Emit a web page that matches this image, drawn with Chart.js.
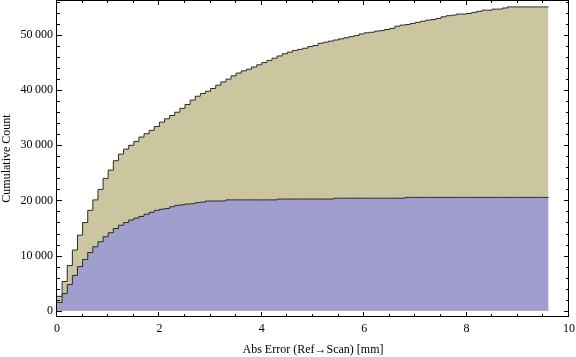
<!DOCTYPE html>
<html>
<head>
<meta charset="utf-8">
<script src="https://cdn.jsdelivr.net/npm/chart.js@4"></script>
<style>
  body { margin: 0; background: #fff; }
  #wrap { width: 576px; height: 357px; }
</style>
</head>
<body>
<div id="wrap"><canvas id="chart" width="576" height="357"></canvas></div>
<script>
const TAN = "#cbc6a0";
const LAVENDER = "#a09ecc";
const EDGE = "#2b2b2b";
const SERIF = "'Liberation Serif', 'DejaVu Serif', serif";

// bins are 0.1 mm wide, starting at 0
const BIN_WIDTH = 0.1;

// cumulative count, all points (tan)
const cumulativeAll = [
  2600, 5300, 8200, 11000, 13700, 16000, 18200, 20100, 22000, 24000,
  25500, 27200, 28400, 29300, 30000, 30700, 31500, 32100, 32700, 33400,
  34200, 34800, 35400, 36000, 36700, 37400, 38200, 38900, 39400, 39800,
  40300, 40900, 41500, 42000, 42600, 43100, 43500, 43800, 44200, 44600,
  45000, 45400, 45800, 46200, 46600, 46900, 47200, 47400, 47600, 47900,
  48100, 48500, 48700, 48900, 49100, 49300, 49500, 49700, 49900, 50200,
  50400, 50500, 50700, 50800, 51000, 51200, 51600, 51800, 51900, 52100,
  52300, 52500, 52700, 52800, 53000, 53300, 53500, 53600, 53800, 53800,
  53900, 54100, 54300, 54500, 54500, 54700, 54700, 54900, 55100, 55100,
  55100, 55100, 55100, 55100, 55100, 55100,
];

// cumulative count, subset (lavender)
const cumulativeSubset = [
  1500, 3100, 4750, 6400, 8000, 9300, 10550, 11600, 12500, 13400,
  14150, 14900, 15500, 16000, 16450, 16800, 17100, 17500, 17850, 18200,
  18400, 18550, 18850, 19100, 19200, 19350, 19400, 19600, 19700, 19900,
  19900, 19900, 19900, 20100, 20100, 20100, 20100, 20100, 20100, 20100,
  20100, 20100, 20100, 20250, 20250, 20250, 20250, 20250, 20250, 20250,
  20250, 20250, 20250, 20250, 20400, 20400, 20400, 20400, 20400, 20400,
  20400, 20400, 20400, 20400, 20400, 20400, 20400, 20400, 20550, 20550,
  20550, 20550, 20550, 20550, 20550, 20550, 20550, 20550, 20550, 20550,
  20550, 20550, 20550, 20550, 20550, 20550, 20550, 20550, 20550, 20550,
  20550, 20550, 20550, 20550, 20550, 20550,
];

// axis ranges and tick positions
const X_MIN = 0, X_MAX = 10;
const Y_MIN = -1140, Y_MAX = 56350;
const xMajorTicks = [0, 2, 4, 6, 8, 10];
const yMajorTicks = [0, 10000, 20000, 30000, 40000, 50000];
const xMinorStep = 0.5;
const yMinorStep = 2000;

function stepPoints(counts) {
  const pts = counts.map((v, i) => ({ x: i * BIN_WIDTH, y: v }));
  pts.push({ x: counts.length * BIN_WIDTH, y: counts[counts.length - 1] });
  return pts;
}

function minorTicks(min, max, step) {
  const out = [];
  for (let v = Math.ceil(min / step) * step; v <= max + 1e-9; v += step) {
    out.push(Math.round(v * 1000) / 1000);
  }
  return out;
}

function fmtCount(v) {
  return String(v).replace(/\B(?=(\d{3})+(?!\d))/g, "\u2009");
}

const isMajorX = (v) => xMajorTicks.some((m) => Math.abs(m - v) < 1e-6);
const isMajorY = (v) => yMajorTicks.some((m) => Math.abs(m - v) < 1e-6);

/* frame with inward ticks on all four sides */
const frameTicks = {
  id: "frameTicks",
  afterDraw(chart) {
    const { ctx, chartArea: a, scales } = chart;
    ctx.save();
    ctx.strokeStyle = "#000";
    ctx.lineWidth = 1;
    ctx.beginPath();
    for (const t of scales.x.ticks) {
      const px = Math.round(scales.x.getPixelForValue(t.value)) - 0.5;
      const len = isMajorX(t.value) ? 5 : 3;
      ctx.moveTo(px, a.bottom); ctx.lineTo(px, a.bottom - len);
      ctx.moveTo(px, a.top); ctx.lineTo(px, a.top + len);
    }
    for (const t of scales.y.ticks) {
      const py = Math.round(scales.y.getPixelForValue(t.value)) + 0.5;
      const len = isMajorY(t.value) ? 5 : 3;
      ctx.moveTo(a.left, py); ctx.lineTo(a.left + len, py);
      ctx.moveTo(a.right, py); ctx.lineTo(a.right - len, py);
    }
    ctx.moveTo(a.left - 0.5, a.top + 0.5);
    ctx.lineTo(a.right - 0.5, a.top + 0.5);
    ctx.lineTo(a.right - 0.5, a.bottom - 0.5);
    ctx.lineTo(a.left - 0.5, a.bottom - 0.5);
    ctx.closePath();
    ctx.stroke();
    ctx.restore();
  },
};

new Chart(document.getElementById("chart"), {
  type: "line",
  data: {
    datasets: [
      {
        data: stepPoints(cumulativeSubset),
        stepped: true,
        borderColor: EDGE,
        borderWidth: 1,
        backgroundColor: LAVENDER,
        fill: "origin",
        pointRadius: 0,
        order: 0,
      },
      {
        data: stepPoints(cumulativeAll),
        stepped: true,
        borderColor: EDGE,
        borderWidth: 1,
        backgroundColor: TAN,
        fill: "origin",
        pointRadius: 0,
        order: 1,
      },
    ],
  },
  options: {
    responsive: false,
    animation: false,
    layout: { padding: { top: 0, right: 7, left: 0, bottom: 0 } },
    plugins: { legend: { display: false }, tooltip: { enabled: false } },
    scales: {
      x: {
        type: "linear",
        bounds: "data",
        min: X_MIN,
        max: X_MAX,
        grid: { display: false, drawTicks: false },
        border: { display: false },
        afterBuildTicks: (s) => {
          s.ticks = minorTicks(X_MIN, X_MAX, xMinorStep).map((value) => ({ value }));
        },
        ticks: {
          autoSkip: false,
          maxRotation: 0,
          padding: 5,
          color: "#000",
          font: { family: SERIF, size: 12 },
          callback: (v) => (isMajorX(v) ? String(Math.round(v)) : ""),
        },
        title: {
          display: true,
          text: "Abs Error (Ref\u2192Scan) [mm]",
          color: "#000",
          font: { family: SERIF, size: 12 },
          padding: { top: 0, bottom: 0 },
        },
        afterFit: (s) => {
          s.height = 40;
          s.paddingLeft = 0;
          s.paddingRight = 0;
        },
      },
      y: {
        type: "linear",
        bounds: "data",
        min: Y_MIN,
        max: Y_MAX,
        grid: { display: false, drawTicks: false },
        border: { display: false },
        afterBuildTicks: (s) => {
          s.ticks = minorTicks(Y_MIN, Y_MAX, yMinorStep).map((value) => ({ value }));
        },
        ticks: {
          autoSkip: false,
          padding: 4,
          color: "#000",
          font: { family: SERIF, size: 12 },
          callback: (v) => (isMajorY(v) ? fmtCount(Math.round(v)) : ""),
        },
        title: {
          display: true,
          text: "Cumulative Count",
          color: "#000",
          font: { family: SERIF, size: 12 },
          padding: { top: 0, bottom: 0 },
        },
        afterFit: (s) => {
          s.width = 57;
          s.paddingTop = 0;
          s.paddingBottom = 0;
        },
      },
    },
  },
  plugins: [frameTicks],
});
</script>
</body>
</html>
